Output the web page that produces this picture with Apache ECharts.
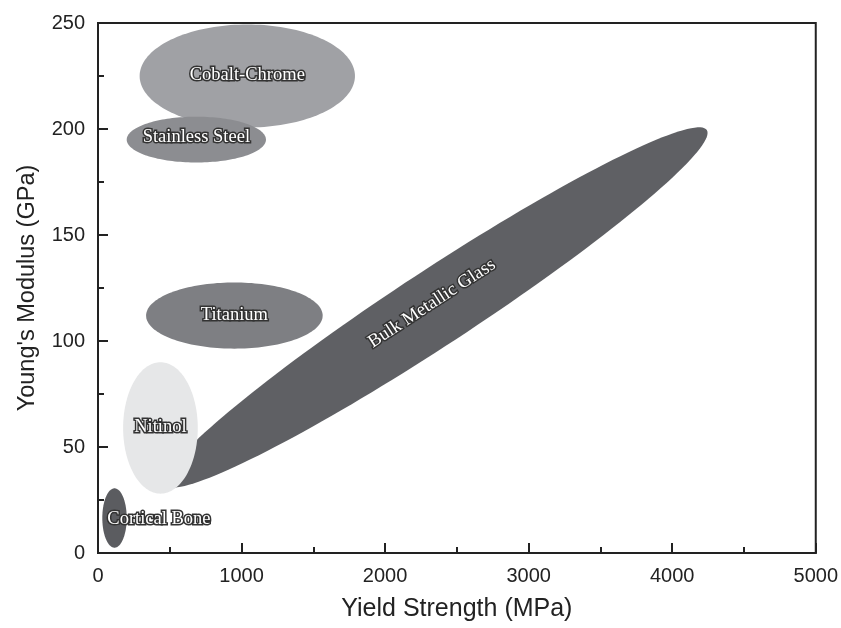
<!DOCTYPE html>
<html>
<head>
<meta charset="utf-8">
<script src="https://cdn.jsdelivr.net/npm/echarts@6/dist/echarts.min.js"></script>
<style>html,body{margin:0;padding:0;background:#fff;}#chart{width:841px;height:628px;}</style>
</head>
<body>
<div id="chart"></div>
<script>
// Materials (drawing order: back to front)
const materials = ['Cobalt-Chrome', 'Stainless Steel', 'Titanium', 'Bulk Metallic Glass', 'Nitinol', 'Cortical Bone'];
// Ellipse centre (Yield Strength MPa, Young's Modulus GPa)
const centerX = [1040, 685, 950, 2354, 435, 115];
const centerY = [225, 195, 112, 115.8, 59, 16.5];
// First semi-diameter (data units)
const axisUx = [750, 485, 615, 1887, 260, 85];
const axisUy = [0, 0, 0, 83.7, 0, 0];
// Second semi-diameter (data units)
const axisVx = [0, 0, 0, 143.5, 0, 0];
const axisVy = [24.3, 10.8, 15.6, -14.8, 31, 14];

const xTicks = { min: 0, max: 5000, interval: 1000 };
const yTicks = { min: 0, max: 250, interval: 50 };

const colors = ['#a0a1a5', '#8c8d91', '#7e7f83', '#5f6064', '#e6e7e8', '#5b5c60'];

const data = materials.map((m, i) => [centerX[i], centerY[i], axisUx[i], axisUy[i], axisVx[i], axisVy[i], i]);

const chart = echarts.init(document.getElementById('chart'));

function renderItem(params, api) {
  const cx = api.value(0), cy = api.value(1);
  const ux = api.value(2), uy = api.value(3);
  const vx = api.value(4), vy = api.value(5);
  const idx = api.value(6);
  const pts = [];
  const N = 160;
  for (let k = 0; k < N; k++) {
    const t = 2 * Math.PI * k / N;
    pts.push(api.coord([cx + ux * Math.cos(t) + vx * Math.sin(t), cy + uy * Math.cos(t) + vy * Math.sin(t)]));
  }
  const c = api.coord([cx, cy]);
  const e1 = api.coord([cx + ux, cy + uy]);
  const ang = Math.atan2(-(e1[1] - c[1]), e1[0] - c[0]);
  let lx = c[0], ly = c[1], align = 'center';
  const name = materials[idx];
  if (name === 'Cortical Bone') {
    const left = api.coord([cx - ux, cy]);
    lx = left[0] + 5; align = 'left'; ly = c[1] + 1;
  }
  if (name === 'Bulk Metallic Glass') { lx = c[0] - 4; ly = c[1] - 4; }
  if (name === 'Cobalt-Chrome') { ly = c[1] - 1; }
  if (name === 'Stainless Steel') { ly = c[1] - 2; }
  if (name === 'Nitinol') { ly = c[1] - 1; }
  const rotate = (name === 'Bulk Metallic Glass') ? ang : 0;
  return {
    type: 'group',
    children: [
      {
        type: 'polygon',
        shape: { points: pts },
        style: { fill: colors[idx], stroke: null }
      },
      {
        type: 'text',
        x: lx, y: ly,
        rotation: rotate,
        style: {
          text: name,
          x: 0, y: 0,
          align: align,
          verticalAlign: 'middle',
          fill: '#ffffff',
          font: '18.5px "Liberation Serif", "DejaVu Serif", serif',
          stroke: '#333333',
          lineWidth: 3,
          strokeFirst: true
        },
        z2: 10
      }
    ]
  };
}

const plainNum = v => String(v);

chart.setOption({
  animation: false,
  backgroundColor: '#ffffff',
  grid: { left: 98, right: 25, top: 23, bottom: 75, show: true, borderColor: '#222', borderWidth: 2, backgroundColor: 'transparent' },
  xAxis: {
    type: 'value',
    min: xTicks.min, max: xTicks.max, interval: xTicks.interval,
    name: 'Yield Strength (MPa)',
    nameLocation: 'middle', nameGap: 44,
    nameTextStyle: { fontFamily: '"Liberation Sans", Arial, sans-serif', fontSize: 25, color: '#222' },
    axisLine: { show: true, lineStyle: { color: '#222', width: 2 } },
    axisTick: { show: true, inside: true, length: 10, lineStyle: { color: '#222', width: 2 } },
    minorTick: { show: true, splitNumber: 2, length: 6, lineStyle: { color: '#222', width: 2 } },
    axisLabel: { fontFamily: '"Liberation Sans", Arial, sans-serif', fontSize: 20, color: '#222', margin: 13, formatter: plainNum },
    splitLine: { show: false }
  },
  yAxis: {
    type: 'value',
    min: yTicks.min, max: yTicks.max, interval: yTicks.interval,
    name: "Young's Modulus (GPa)",
    nameLocation: 'middle', nameGap: 58,
    nameTextStyle: { fontFamily: '"Liberation Sans", Arial, sans-serif', fontSize: 23.5, color: '#222' },
    axisLine: { show: true, lineStyle: { color: '#222', width: 2 } },
    axisTick: { show: true, inside: true, length: 10, lineStyle: { color: '#222', width: 2 } },
    minorTick: { show: true, splitNumber: 2, length: 6, lineStyle: { color: '#222', width: 2 } },
    axisLabel: { fontFamily: '"Liberation Sans", Arial, sans-serif', fontSize: 20, color: '#222', margin: 13, formatter: plainNum },
    splitLine: { show: false }
  },
  series: [{
    type: 'custom',
    renderItem: renderItem,
    data: data,
    clip: true,
    encode: { x: 0, y: 1 }
  }]
});
</script>
</body>
</html>
